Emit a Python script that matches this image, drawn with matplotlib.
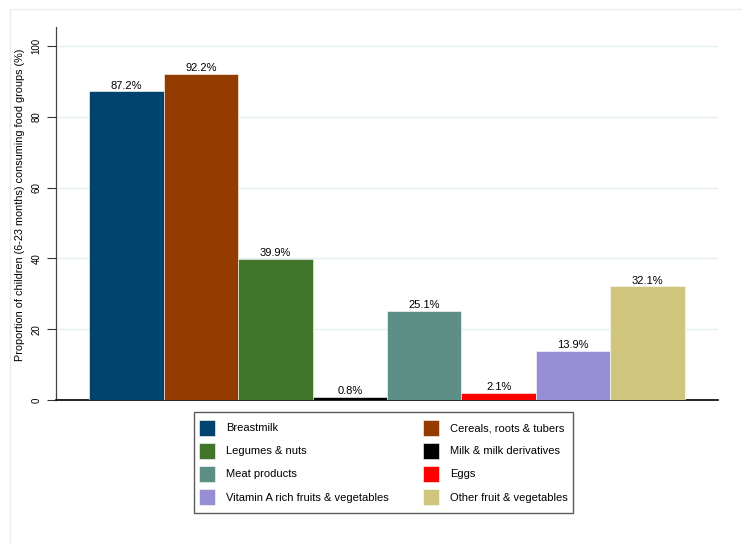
## food group consumption, children 6-23 months

import matplotlib.pyplot as plt
from matplotlib.patches import Patch, Rectangle
from matplotlib.legend_handler import HandlerPatch

plt.rcParams['font.family'] = ['Liberation Sans', 'DejaVu Sans']

groups = ['Breastmilk', 'Cereals, roots & tubers', 'Legumes & nuts',
          'Milk & milk derivatives', 'Meat products', 'Eggs',
          'Vitamin A rich fruits & vegetables', 'Other fruit & vegetables']
values = [87.2, 92.2, 39.9, 0.8, 25.1, 2.1, 13.9, 32.1]
colors = ['#00446e', '#943c00', '#41752a', '#000000',
          '#5d8f86', '#ff0000', '#968fd5', '#cfc57d']
yticks = [0, 20, 40, 60, 80, 100]


class SquareHandler(HandlerPatch):
    # square swatch, centred in the handle box
    def create_artists(self, legend, orig_handle, xdescent, ydescent,
                       width, height, fontsize, trans):
        side = width
        y0 = height / 2 - ydescent - side / 2
        p = Rectangle((-xdescent, y0), side, side,
                      facecolor=orig_handle.get_facecolor(),
                      edgecolor='white', linewidth=0.4, transform=trans)
        return [p]


fig = plt.figure(figsize=(7.42, 5.43), dpi=100)
ax = fig.add_axes([56 / 742, 1 - 400 / 543, (718 - 56) / 742, (400 - 27) / 543])

x = list(range(len(values)))
bars = ax.bar(x, values, width=1.0, color=colors, edgecolor='white', linewidth=0.4, zorder=3)
for xi, v in zip(x, values):
    ax.text(xi, v + 0.2, f'{v}%', ha='center', va='bottom', fontsize=8, zorder=4)

ax.set_xlim(-0.944, 7.944)
ax.set_ylim(0, 105.4)
ax.set_xticks([])
ax.set_yticks(yticks)
ax.set_yticklabels([str(t) for t in yticks], rotation=90, va='center', fontsize=7)
ax.tick_params(axis='y', length=6.5, width=0.8, color='#333333', pad=4)
for t in yticks[1:]:
    ax.axhline(t, color='#e4f0ee', linewidth=1.0, zorder=1)

ax.spines['top'].set_visible(False)
ax.spines['right'].set_visible(False)
ax.spines['left'].set_color('#444444')
ax.spines['left'].set_linewidth(0.9)
ax.spines['bottom'].set_color('#000000')
ax.spines['bottom'].set_linewidth(1.2)
ax.set_ylabel('Proportion of children (6-23 months) consuming food groups (%)', fontsize=7.8)
ax.yaxis.set_label_coords(-0.047, 0.523)

# legend filled row by row: left column gets even entries
order = [0, 2, 4, 6, 1, 3, 5, 7]
handles = [Patch(facecolor=colors[i]) for i in order]
labels = [groups[i] for i in order]
leg = fig.legend(handles, labels, ncol=2, loc='upper left',
                 bbox_to_anchor=(194 / 742, 1 - 412 / 543), fontsize=8,
                 frameon=True, fancybox=False, edgecolor='#333333',
                 borderaxespad=0, handlelength=1.44, handleheight=2.6,
                 handletextpad=1.0, columnspacing=3.06, labelspacing=0.15,
                 borderpad=0.45, handler_map={Patch: SquareHandler()})
leg.get_frame().set_linewidth(1.0)

# light outer frame
fig.patches.append(Rectangle((10 / 742, -0.1), 2, (543 - 9) / 543 + 0.1,
                             transform=fig.transFigure, fill=False,
                             edgecolor='#e6eeec', linewidth=1.0))

fig.savefig('out.png', dpi=100)
